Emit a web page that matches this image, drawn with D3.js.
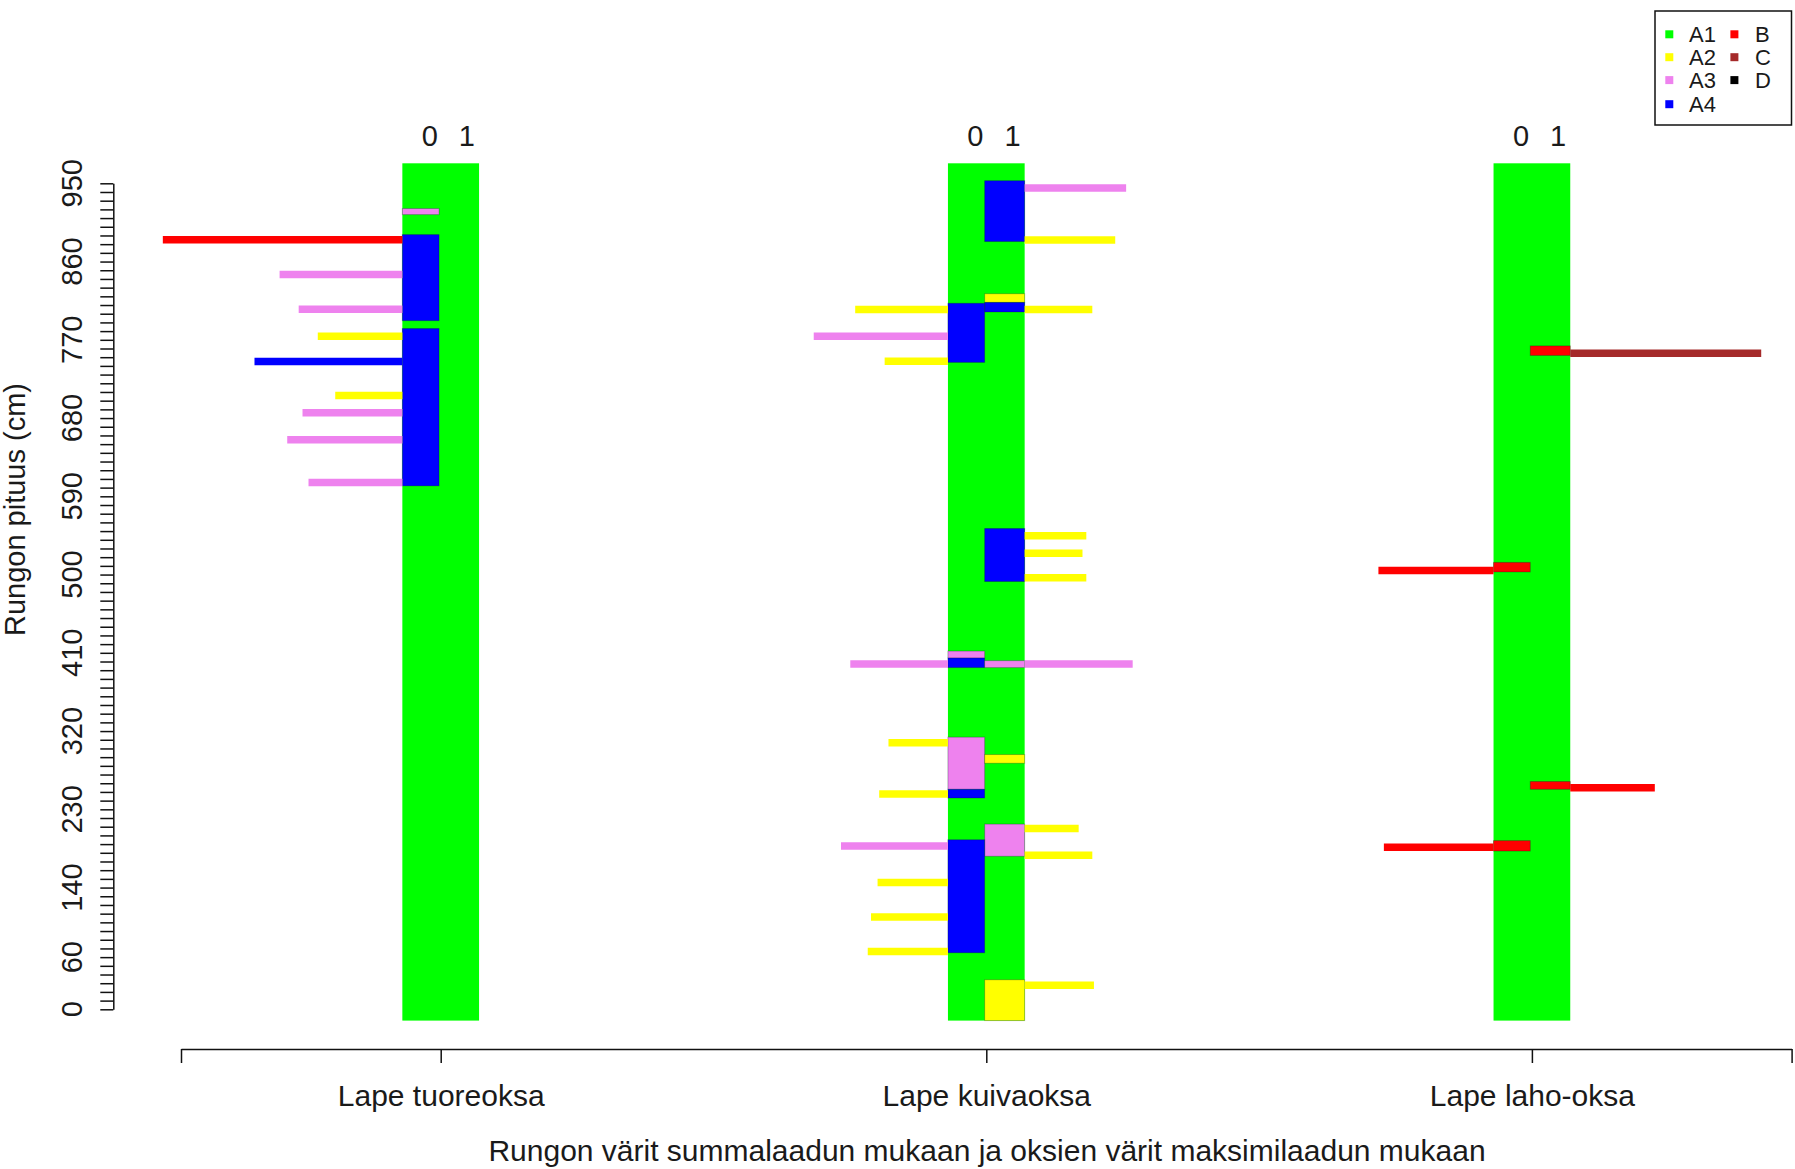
<!DOCTYPE html>
<html>
<head>
<meta charset="utf-8">
<script src="https://cdn.jsdelivr.net/npm/d3@7"></script>
<style>
  html, body { margin: 0; padding: 0; background: #fff; }
  svg { display: block; font-family: "Liberation Sans", Arial, sans-serif; }
</style>
</head>
<body>
<svg id="chart" width="1795" height="1169"></svg>
<script>
// ---------------- data ----------------
const categories = ["Lape tuoreoksa", "Lape kuivaoksa", "Lape laho-oksa"];
const qualityNames = ["A1", "A2", "A3", "A4", "B", "C", "D"];
const qualityColors = ["#00ff00", "#ffff00", "#ee82ee", "#0000ff", "#ff0000", "#a52a2a", "#000000"];
const yTickLabels = [0, 60, 140, 230, 320, 410, 500, 590, 680, 770, 860, 950];
const yAxisMax = 950;
const xLimits = [0.524, 3.476];
const stemExtent = [-13, 973];           // cm, whole stem (A1 background)
const sideLabels = ["0", "1"];

// stem quality segments: [side (0 = left, 1 = right), from cm, to cm, quality]
const stemTuoreoksa = [
  [0, 914, 921, "A3"], [0, 792, 891, "A4"], [0, 602, 783, "A4"]
];
const stemKuivaoksa = [
  [1, 883, 953, "A4"], [1, 813, 823, "A2"], [1, 802, 813, "A4"], [0, 744, 812, "A4"],
  [1, 492, 553, "A4"], [0, 404, 412, "A3"], [0, 393, 404, "A4"], [1, 393, 401, "A3"],
  [0, 253, 313, "A3"], [1, 283, 293, "A2"], [0, 243, 253, "A4"], [1, 176, 213, "A3"],
  [0, 65, 195, "A4"], [1, -13, 34, "A2"]
];
const stemLahooksa = [
  [1, 752, 763, "B"], [0, 503, 514, "B"], [1, 253, 262, "B"], [0, 182, 194, "B"]
];

// branches: [side, height cm, length (x-axis units), max quality]
const branchTuoreoksa = [
  [0, 885, 0.439, "B"], [0, 845, 0.225, "A3"], [0, 805, 0.190, "A3"],
  [0, 774, 0.155, "A2"], [0, 745, 0.271, "A4"], [0, 706, 0.123, "A2"],
  [0, 686, 0.183, "A3"], [0, 655, 0.211, "A3"], [0, 606, 0.172, "A3"]
];
const branchKuivaoksa = [
  [1, 944.6, 0.186, "A3"], [1, 884.8, 0.166, "A2"], [1, 804.8, 0.124, "A2"],
  [1, 544.7, 0.113, "A2"], [1, 524.6, 0.106, "A2"], [1, 496.2, 0.113, "A2"],
  [1, 397.1, 0.198, "A3"], [1, 207.8, 0.099, "A2"], [1, 177.2, 0.124, "A2"],
  [1, 27.7, 0.127, "A2"],
  [0, 804.8, 0.170, "A2"], [0, 774.1, 0.246, "A3"], [0, 745.4, 0.116, "A2"],
  [0, 397.1, 0.179, "A3"], [0, 306.6, 0.109, "A2"], [0, 247.5, 0.126, "A2"],
  [0, 187.7, 0.196, "A3"], [0, 145.8, 0.129, "A2"], [0, 106.2, 0.141, "A2"],
  [0, 66.5, 0.147, "A2"]
];
const branchLahooksa = [
  [1, 754.5, 0.350, "C"], [0, 504.7, 0.211, "B"], [1, 254.7, 0.155, "B"], [0, 186.4, 0.201, "B"]
];

const stems = [stemTuoreoksa, stemKuivaoksa, stemLahooksa];
const branches = [branchTuoreoksa, branchKuivaoksa, branchLahooksa];

// ---------------- layout ----------------
const stemHalf = 0.0703;      // half stem width in x units
const stemSplit = -0.003;     // divider between side 0 / side 1
const labelOffsets = [-0.020, 0.048];
const FONT = 29;
const FONT_X = 30;
const TXT = "#1a1a1a";

const svg = d3.select("#chart");
const color = d3.scaleOrdinal().domain(qualityNames).range(qualityColors);
const x = d3.scaleLinear().domain(xLimits).range([181, 1791.6]);
const y = d3.scaleLinear().domain([0, yAxisMax]).range([1009.3, 183.3]);

// stems
categories.forEach((cat, i) => {
  const c = i + 1;
  const g = svg.append("g");
  g.append("rect")
    .attr("x", x(c - stemHalf)).attr("width", x(c + stemHalf) - x(c - stemHalf))
    .attr("y", y(stemExtent[1])).attr("height", y(stemExtent[0]) - y(stemExtent[1]))
    .attr("fill", color("A1"));

  g.selectAll("rect.seg").data(stems[i]).join("rect")
    .attr("class", "seg")
    .attr("x", d => d[0] === 0 ? x(c - stemHalf) : x(c + stemSplit))
    .attr("width", d => d[0] === 0 ? x(c + stemSplit) - x(c - stemHalf) : x(c + stemHalf) - x(c + stemSplit))
    .attr("y", d => y(d[2]))
    .attr("height", d => y(d[1]) - y(d[2]))
    .attr("fill", d => color(d[3]))
    .attr("stroke", "rgba(0,0,40,0.25)")
    .attr("stroke-width", 1);

  g.selectAll("line.br").data(branches[i]).join("line")
    .attr("class", "br")
    .attr("x1", d => d[0] === 0 ? x(c - stemHalf) : x(c + stemHalf))
    .attr("x2", d => d[0] === 0 ? x(c - stemHalf - d[2]) : x(c + stemHalf + d[2]))
    .attr("y1", d => y(d[1])).attr("y2", d => y(d[1]))
    .attr("stroke", d => color(d[3]))
    .attr("stroke-width", 7.5);

  g.selectAll("text.side").data(sideLabels).join("text")
    .attr("class", "side")
    .attr("x", (d, k) => x(c + labelOffsets[k]))
    .attr("y", 146)
    .attr("text-anchor", "middle")
    .attr("font-size", FONT)
    .attr("fill", TXT)
    .text(d => d);
});

// y axis
const yAxis = svg.append("g")
  .attr("transform", "translate(113.3,0)")
  .call(d3.axisLeft(y).tickValues(d3.range(0, yAxisMax + 1, 10)).tickSize(13).tickSizeOuter(0).tickFormat(""));
yAxis.selectAll("path, line").attr("stroke", "#111").attr("stroke-width", 1.5);

svg.selectAll("text.ylab").data(yTickLabels).join("text")
  .attr("class", "ylab")
  .attr("transform", d => `translate(72,${y(d)}) rotate(-90)`)
  .attr("dy", "0.35em")
  .attr("text-anchor", "middle")
  .attr("font-size", FONT)
  .attr("fill", TXT)
  .text(d => d);

svg.append("text")
  .attr("transform", "translate(25,509.5) rotate(-90)")
  .attr("text-anchor", "middle")
  .attr("font-size", FONT)
  .attr("fill", TXT)
  .text("Rungon pituus (cm)");

// x axis
const xAxis = svg.append("g")
  .attr("transform", "translate(0,1049)")
  .call(d3.axisBottom(x)
    .tickValues([xLimits[0], 1, 2, 3, xLimits[1]])
    .tickSize(14).tickSizeOuter(0).tickPadding(22)
    .tickFormat(d => Number.isInteger(d) ? categories[d - 1] : ""));
xAxis.selectAll("path, line").attr("stroke", "#111").attr("stroke-width", 1.5);
xAxis.selectAll("text").attr("font-size", FONT_X).attr("fill", TXT)
  .attr("font-family", "Liberation Sans, Arial, sans-serif");

svg.append("text")
  .attr("x", 987).attr("y", 1161)
  .attr("text-anchor", "middle")
  .attr("font-size", FONT_X)
  .attr("fill", TXT)
  .text("Rungon värit summalaadun mukaan ja oksien värit maksimilaadun mukaan");

// legend
const legend = svg.append("g");
legend.append("rect")
  .attr("x", 1655).attr("y", 11).attr("width", 136.5).attr("height", 114)
  .attr("fill", "#fff").attr("stroke", "#111").attr("stroke-width", 1.5);
const legCols = [[1669.3, 1689], [1734.4, 1755]];
const legRows = [34.3, 57.2, 80.1, 104.2];
const legItems = qualityNames.map((q, k) => ({ q, col: k < 4 ? 0 : 1, row: k < 4 ? k : k - 4 }));
legend.selectAll("rect.sw").data(legItems).join("rect")
  .attr("class", "sw")
  .attr("x", d => legCols[d.col][0] - 4).attr("y", d => legRows[d.row] - 4)
  .attr("width", 8).attr("height", 8)
  .attr("fill", d => color(d.q));
legend.selectAll("text.lt").data(legItems).join("text")
  .attr("class", "lt")
  .attr("x", d => legCols[d.col][1]).attr("y", d => legRows[d.row])
  .attr("dy", "0.36em")
  .attr("font-size", 22)
  .attr("fill", TXT)
  .text(d => d.q);
</script>
</body>
</html>
